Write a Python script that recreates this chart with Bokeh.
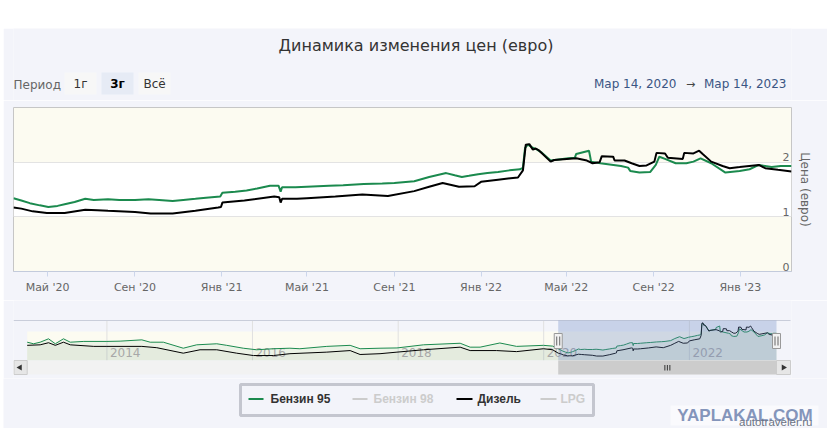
import math
import pandas as pd
from bokeh.plotting import figure
from bokeh.models import Range1d, FixedTicker, ColumnDataSource, BoxAnnotation, Spacer, Label
from bokeh.layouts import column, row
from bokeh.core.properties import value
from bokeh.embed import file_html
from bokeh.resources import INLINE

# ---------------- texts ----------------
TITLE = "Динамика изменения цен (евро)"
PERIOD_LABEL = "Период"
PERIOD_BUTTONS = ["1г", "3г", "Всё"]
SELECTED_BUTTON = "3г"
RANGE_FROM_TEXT = "Мар 14, 2020"
RANGE_TO_TEXT = "Мар 14, 2023"
Y_AXIS_TITLE = "Цена (евро)"
SERIES_NAMES = ["Бензин 95", "Бензин 98", "Дизель", "LPG"]
SERIES_VISIBLE = [True, False, True, False]
WATERMARK = "YAPLAKAL.COM"
SOURCE = "autotraveler.ru"

# ---------------- axes ----------------
SELECTION = ["2020-03-14", "2023-03-14"]
X_TICK_DATES = ["2020-05-01", "2020-09-01", "2021-01-01", "2021-05-01", "2021-09-01",
                "2022-01-01", "2022-05-01", "2022-09-01", "2023-01-01"]
X_TICK_LABELS = ["Май '20", "Сен '20", "Янв '21", "Май '21", "Сен '21",
                 "Янв '22", "Май '22", "Сен '22", "Янв '23"]
Y_TICKS = [0, 1, 2]
Y_RANGE = [0, 3]
WHITE_BAND = [1, 2]
NAV_YEARS = [2014, 2016, 2018, 2020, 2022]

# ---------------- data: Бензин 95 (shown window) ----------------
b95_dates = ["2020-03-14", "2020-03-25", "2020-04-06", "2020-04-20", "2020-05-02", "2020-05-15",
             "2020-05-25", "2020-06-08", "2020-06-23", "2020-07-05", "2020-07-25", "2020-08-10",
             "2020-09-01", "2020-09-20", "2020-10-05", "2020-10-24", "2020-11-08", "2020-11-25",
             "2020-12-10", "2020-12-30", "2021-01-02", "2021-01-20", "2021-02-05", "2021-02-20",
             "2021-03-10", "2021-03-22", "2021-03-25", "2021-03-27", "2021-04-15", "2021-05-01",
             "2021-06-01", "2021-06-21", "2021-07-20", "2021-08-15", "2021-09-01", "2021-09-29",
             "2021-10-20", "2021-11-13", "2021-11-25", "2021-12-05", "2021-12-15", "2021-12-28",
             "2022-01-10", "2022-01-25", "2022-02-10", "2022-02-25", "2022-03-01", "2022-03-04",
             "2022-03-08", "2022-03-14", "2022-03-21", "2022-03-28", "2022-04-09", "2022-04-20",
             "2022-05-04", "2022-05-13", "2022-05-15", "2022-06-02", "2022-06-05", "2022-06-18",
             "2022-07-17", "2022-07-27", "2022-07-30", "2022-08-12", "2022-08-27", "2022-09-04",
             "2022-09-09", "2022-09-17", "2022-10-02", "2022-10-17", "2022-10-27", "2022-11-06",
             "2022-11-21", "2022-12-11", "2022-12-31", "2023-01-14", "2023-01-27", "2023-02-14",
             "2023-02-27", "2023-03-14"]
b95_values = [1.34, 1.30, 1.25, 1.21, 1.18, 1.20,
              1.23, 1.27, 1.33, 1.31, 1.32, 1.31,
              1.31, 1.32, 1.31, 1.29, 1.31, 1.33,
              1.35, 1.37, 1.44, 1.46, 1.48, 1.52,
              1.57, 1.57, 1.46, 1.54, 1.54, 1.55,
              1.57, 1.58, 1.60, 1.61, 1.62, 1.65,
              1.73, 1.80, 1.76, 1.73, 1.75, 1.78,
              1.80, 1.82, 1.85, 1.87, 1.90, 2.26,
              2.32, 2.27, 2.23, 2.17, 2.03, 2.05,
              2.07, 2.08, 2.15, 2.21, 2.01, 1.98,
              1.93, 1.90, 1.84, 1.81, 1.82, 1.95,
              2.10, 2.06, 1.98, 1.98, 2.01, 2.07,
              1.98, 1.81, 1.84, 1.87, 1.95, 1.91,
              1.93, 1.93]

# ---------------- data: Дизель (shown window) ----------------
diesel_dates = ["2020-03-14", "2020-03-25", "2020-04-10", "2020-04-30", "2020-05-25", "2020-06-23",
                "2020-07-10", "2020-07-25", "2020-09-01", "2020-09-23", "2020-10-24", "2020-11-25",
                "2020-12-27", "2020-12-31", "2021-01-02", "2021-02-02", "2021-03-16", "2021-03-23",
                "2021-03-25", "2021-03-27", "2021-04-17", "2021-05-01", "2021-06-10", "2021-07-18",
                "2021-08-23", "2021-09-29", "2021-10-20", "2021-11-08", "2021-12-01", "2021-12-23",
                "2022-01-01", "2022-01-25", "2022-02-22", "2022-03-01", "2022-03-05", "2022-03-10",
                "2022-03-15", "2022-03-19", "2022-03-24", "2022-04-09", "2022-04-14", "2022-05-15",
                "2022-05-30", "2022-06-07", "2022-06-17", "2022-06-20", "2022-07-06", "2022-07-08",
                "2022-07-22", "2022-08-01", "2022-08-12", "2022-08-22", "2022-09-02", "2022-09-05",
                "2022-09-17", "2022-09-21", "2022-10-12", "2022-10-14", "2022-10-27", "2022-11-04",
                "2022-11-09", "2022-11-21", "2022-12-07", "2022-12-17", "2022-12-31", "2023-01-27",
                "2023-02-05", "2023-02-23", "2023-03-14"]
diesel_values = [1.17, 1.15, 1.10, 1.07, 1.07, 1.13,
                 1.12, 1.11, 1.09, 1.06, 1.06, 1.11,
                 1.17, 1.18, 1.26, 1.30, 1.37, 1.36,
                 1.26, 1.33, 1.33, 1.34, 1.37, 1.41,
                 1.38, 1.47, 1.55, 1.62, 1.55, 1.56,
                 1.64, 1.68, 1.72, 1.85, 2.32, 2.33,
                 2.23, 2.25, 2.21, 2.01, 2.04, 2.07,
                 2.03, 1.98, 2.00, 2.11, 2.10, 2.03,
                 2.03, 1.98, 1.93, 1.94, 2.01, 2.17,
                 2.16, 2.08, 2.06, 2.17, 2.16, 2.21,
                 2.15, 2.01, 1.93, 1.89, 1.91, 1.95,
                 1.89, 1.86, 1.83]

# ---------------- data: history (navigator only) ----------------
b95_hist_dates = ["2012-11-27", "2012-12-29", "2013-01-31", "2013-03-14", "2013-04-17", "2013-05-28",
                  "2013-07-01", "2013-09-07", "2014-01-01", "2014-03-08", "2014-06-25", "2014-08-06",
                  "2014-10-11", "2015-01-19", "2015-03-27", "2015-07-06", "2015-08-25", "2015-11-16",
                  "2016-01-22", "2016-04-15", "2016-07-07", "2016-08-26", "2017-01-08", "2017-05-05",
                  "2017-06-24", "2017-10-02", "2017-12-26", "2018-05-08", "2018-11-08", "2018-12-28",
                  "2019-02-16", "2019-05-26", "2019-08-18", "2019-12-31", "2020-02-15"]
b95_hist_values = [1.59, 1.53, 1.59, 1.72, 1.53, 1.72,
                   1.59, 1.62, 1.62, 1.63, 1.68, 1.59,
                   1.59, 1.36, 1.49, 1.53, 1.47, 1.36,
                   1.30, 1.34, 1.36, 1.34, 1.43, 1.47,
                   1.34, 1.36, 1.37, 1.49, 1.55, 1.40,
                   1.40, 1.56, 1.43, 1.47, 1.44]
diesel_hist_dates = ["2012-11-27", "2013-01-31", "2013-03-14", "2013-04-17", "2013-05-28", "2013-07-01",
                     "2013-10-27", "2014-01-01", "2014-06-25", "2014-09-08", "2015-01-19", "2015-04-13",
                     "2015-07-06", "2015-10-14", "2016-01-06", "2016-04-15", "2016-07-07", "2017-01-08",
                     "2017-05-05", "2017-06-24", "2017-10-02", "2017-12-26", "2018-05-08", "2018-11-08",
                     "2018-12-28", "2019-05-10", "2019-08-18", "2019-12-31", "2020-02-15"]
diesel_hist_values = [1.47, 1.49, 1.57, 1.47, 1.59, 1.49,
                      1.43, 1.43, 1.43, 1.38, 1.17, 1.30,
                      1.30, 1.17, 1.08, 1.08, 1.15, 1.21,
                      1.27, 1.12, 1.15, 1.21, 1.30, 1.40,
                      1.27, 1.27, 1.23, 1.34, 1.30]

# ---------------- styles / layout ----------------
W = 824            # container width (page x 3 .. 827)
CX0, CX1 = 3, 827  # container edges in page pixels
BL, BR = 10, 36    # borders shared by the aligned figures
FL, FR = 13, 791   # frame edges in page pixels
BG = "#f3f4fa"
YELLOW = "#fcfbf1"
GREEN = "#1b8a4e"
BLACK = "#000000"
HIDDEN = "#cccccc"
SERIES_COLORS = [GREEN, HIDDEN, BLACK, HIDDEN]
FONT_NAME = "DejaVu Sans"
FONT = value(FONT_NAME)
LEG_FONT_NAME = "Liberation Sans"
LEG_FONT = value(LEG_FONT_NAME)


def ms(s):
    return pd.Timestamp(s).value / 1e6


def pixel_fig(top, bot, full=False):
    """Decoration figure whose data coordinates are page pixels."""
    bl, br = (0, 0) if full else (BL, BR)
    x0, x1 = (CX0, CX1) if full else (FL, FR)
    p = figure(width=W, height=bot - top, x_range=Range1d(x0, x1), y_range=Range1d(bot, top),
               output_backend="svg", toolbar_location=None,
               min_border_left=bl, min_border_right=br, min_border_top=0, min_border_bottom=0,
               x_axis_location=None, y_axis_location=None, outline_line_color=None,
               background_fill_color=BG, border_fill_color=BG)
    p.grid.visible = False
    return p


# ================= header =================
header = pixel_fig(28, 100)
header.text(x=[415.5], y=[45], text=[TITLE], text_font=FONT, text_font_size="16px",
            text_color="#333333", text_align="center", text_baseline="middle")
header.text(x=[13], y=[84], text=[PERIOD_LABEL], text_font=FONT, text_font_size="12px",
            text_color="#666666", text_align="left", text_baseline="middle")
btn_left = [64, 101, 138]
btn_w = 32
header.quad(left=btn_left, right=[l + btn_w for l in btn_left], top=[72] * 3, bottom=[94] * 3,
            fill_color=["#e6ebf5" if b == SELECTED_BUTTON else "#f7f7f7" for b in PERIOD_BUTTONS],
            line_color=None)
for l, b in zip(btn_left, PERIOD_BUTTONS):
    header.text(x=[l + btn_w / 2], y=[83.5], text=[b], text_font=FONT, text_font_size="12px",
                text_color="#000000" if b == SELECTED_BUTTON else "#333333",
                text_font_style="bold" if b == SELECTED_BUTTON else "normal",
                text_align="center", text_baseline="middle")
header.text(x=[676], y=[83.5], text=[RANGE_FROM_TEXT], text_font=FONT, text_font_size="12px",
            text_color="#3a5583", text_align="right", text_baseline="middle")
header.text(x=[690], y=[83.5], text=["→"], text_font=FONT, text_font_size="11px",
            text_color="#444444", text_align="center", text_baseline="middle")
header.text(x=[786], y=[83.5], text=[RANGE_TO_TEXT], text_font=FONT, text_font_size="12px",
            text_color="#3a5583", text_align="right", text_baseline="middle")

# ================= main chart =================
sel0 = pd.Timestamp(SELECTION[0]).to_pydatetime()
sel1 = pd.Timestamp(SELECTION[1]).to_pydatetime()
main = figure(width=W, height=200, x_axis_type="datetime", x_range=Range1d(sel0, sel1),
              y_range=Range1d(*Y_RANGE), output_backend="svg", toolbar_location=None,
              y_axis_location="right", min_border_left=BL, min_border_right=BR,
              min_border_top=7, min_border_bottom=29,
              background_fill_color=YELLOW, border_fill_color=BG,
              outline_line_color="#c6c6c6")
main.add_layout(BoxAnnotation(bottom=WHITE_BAND[0], top=WHITE_BAND[1], fill_color="white",
                              fill_alpha=1, line_alpha=0, level="image"))
main.xgrid.visible = False
main.ygrid.ticker = FixedTicker(ticks=[1, 2])
main.ygrid.grid_line_color = "#e3e3e3"

tick_ms = [ms(d) for d in X_TICK_DATES]
xa = main.xaxis[0]
xa.ticker = FixedTicker(ticks=tick_ms)
xa.major_label_overrides = {t: lab for t, lab in zip(tick_ms, X_TICK_LABELS)}
xa.axis_line_color = "#c3cbdc"
xa.major_tick_line_color = "#ccd6eb"
xa.major_tick_in = 0
xa.major_tick_out = 5
xa.minor_tick_line_color = None
xa.major_label_standoff = 4
xa.major_label_text_font = FONT_NAME
xa.major_label_text_font_size = "11px"
xa.major_label_text_color = "#666666"

ya = main.yaxis[0]
ya.ticker = FixedTicker(ticks=[])
ya.axis_line_color = None
ya.major_tick_out = 0
ya.major_tick_in = 0
ya.minor_tick_line_color = None
ya.axis_label = Y_AXIS_TITLE
ya.axis_label_text_font = FONT_NAME
ya.axis_label_text_font_style = "normal"
ya.axis_label_text_font_size = "12px"
ya.axis_label_text_color = "#666666"
ya.axis_label_standoff = 6

src_g = ColumnDataSource(dict(x=pd.to_datetime(b95_dates), y=b95_values))
src_d = ColumnDataSource(dict(x=pd.to_datetime(diesel_dates), y=diesel_values))
main.line("x", "y", source=src_g, line_color=GREEN, line_width=2)
main.line("x", "y", source=src_d, line_color=BLACK, line_width=2)
main.text(x=[sel1] * len(Y_TICKS), y=Y_TICKS, text=[str(v) for v in Y_TICKS],
          text_font=FONT, text_font_size="11px", text_color="#666666",
          text_align="right", text_baseline="bottom", x_offset=-2, y_offset=-1)

# ================= navigator =================
NAV_TOP, NAV_BOT = 300, 378          # figure extent (page px)
DX0, DX1 = 26.7, 776.0               # data extent (page px)
PT, PB = 320.0, 360.0                # navigator plot top / bottom (page px)
NAV_LO, NAV_HI = 0.89, 2.42
g_all_x = [ms(d) for d in b95_hist_dates + b95_dates]
g_all_y = b95_hist_values + b95_values
d_all_x = [ms(d) for d in diesel_hist_dates + diesel_dates]
d_all_y = diesel_hist_values + diesel_values
d0 = min(g_all_x[0], d_all_x[0])
d1 = ms(SELECTION[1])
mpp = (d1 - d0) / (DX1 - DX0)
upp = (NAV_HI - NAV_LO) / (PB - PT)


def nx(px):
    return d0 + (px - DX0) * mpp


def ny(py):
    return NAV_HI - (py - PT) * upp


nav = figure(width=W, height=NAV_BOT - NAV_TOP, x_range=Range1d(nx(FL), nx(FR)),
             y_range=Range1d(ny(NAV_BOT), ny(NAV_TOP)), output_backend="svg",
             toolbar_location=None, min_border_left=BL, min_border_right=BR,
             min_border_top=0, min_border_bottom=0, x_axis_location=None, y_axis_location=None,
             outline_line_color=None, background_fill_color=BG, border_fill_color=BG)
nav.grid.visible = False
bottom = ny(PB)
nav.quad(left=[d0], right=[d1], bottom=[bottom], top=[WHITE_BAND[1]], fill_color=YELLOW,
         line_color=None)
year_ms = [ms(f"{y}-01-01") for y in NAV_YEARS]
nav.segment(x0=year_ms, x1=year_ms, y0=[ny(PT)] * len(year_ms), y1=[bottom] * len(year_ms),
            line_color="#e0e0e0", line_width=1)
nav.segment(x0=[nx(13)], x1=[nx(790)], y0=[ny(PT)], y1=[ny(PT)],
            line_color="#c9cdda", line_width=1)
nav.varea(x=g_all_x, y1=[bottom] * len(g_all_x), y2=g_all_y, fill_color=GREEN, fill_alpha=0.07)
nav.varea(x=d_all_x, y1=[bottom] * len(d_all_x), y2=d_all_y, fill_color=BLACK, fill_alpha=0.03)
nav.text(x=year_ms, y=[ny(352)] * len(year_ms), text=[str(y) for y in NAV_YEARS],
         text_font=FONT, text_font_size="12px", text_color="#a8a8a8",
         text_align="left", text_baseline="middle", x_offset=3)
nav.line(g_all_x, g_all_y, line_color=GREEN, line_width=1)
nav.line(d_all_x, d_all_y, line_color=BLACK, line_width=1)
s0, s1 = ms(SELECTION[0]), ms(SELECTION[1])
nav.quad(left=[s0], right=[s1], bottom=[bottom], top=[ny(PT)], fill_color="#6685c2",
         fill_alpha=0.3, line_color=None)
# scrollbar
nav.quad(left=[nx(12)], right=[nx(790)], bottom=[ny(374)], top=[ny(360)], fill_color="#f2f2f2",
         line_color=None)
nav.quad(left=[s0], right=[s1], bottom=[ny(374)], top=[ny(360)], fill_color="#cccccc",
         line_color=None)
smid = (s0 + s1) / 2
grip = [smid - 2.5 * mpp, smid, smid + 2.5 * mpp]
nav.segment(x0=grip, x1=grip, y0=[ny(364.5)] * 3, y1=[ny(370)] * 3, line_color="#333333",
            line_width=1)
nav.quad(left=[nx(13.5), nx(776)], right=[nx(26.7), nx(790)], bottom=[ny(374)] * 2,
         top=[ny(360)] * 2, fill_color="#e6e6e6", line_color="#cccccc", line_width=1)
nav.scatter(x=[nx(19.5), nx(783)], y=[ny(367)] * 2, marker="triangle",
            angle=[math.pi / 2, -math.pi / 2], size=6, fill_color="#333333", line_color=None)
# handles
nav.rect(x=[s0, s1], y=[ny(340.5)] * 2, width=8, height=15, width_units="screen",
         height_units="screen", fill_color="#f2f2f2", line_color="#999999", line_width=1)
hx = [s0 - 1.5 * mpp, s0 + 1.5 * mpp, s1 - 1.5 * mpp, s1 + 1.5 * mpp]
nav.segment(x0=hx, x1=hx, y0=[ny(336)] * 4, y1=[ny(345)] * 4, line_color="#666666", line_width=1)

# ================= legend + watermark (full-width frame, wrapped to avoid alignment) =========
leg = pixel_fig(378, 428, full=True)
leg.quad(left=[240], right=[593], top=[384], bottom=[415], fill_alpha=0,
         line_color="#c4c6cf", line_width=3)
sym_x0 = [248, 352, 456, 540]
sym_x1 = [263, 367, 472, 556]
txt_x = [270, 373, 477, 560]
for i, name in enumerate(SERIES_NAMES):
    col = SERIES_COLORS[i]
    leg.segment(x0=[sym_x0[i]], x1=[sym_x1[i]], y0=[398.5], y1=[398.5], line_color=col,
                line_width=2)
    leg.text(x=[txt_x[i]], y=[398.5], text=[name], text_font=LEG_FONT, text_font_size="12px",
             text_font_style="bold", text_color="#333333" if SERIES_VISIBLE[i] else HIDDEN,
             text_align="left", text_baseline="middle")
leg.quad(left=[670], right=[818], top=[405], bottom=[425], fill_color="white",
         fill_alpha=0.55, line_color=None)
leg.text(x=[744.5], y=[414.5], text=[WATERMARK], text_font=LEG_FONT, text_font_size="17px",
         text_font_style="bold", text_color="#8495bb", text_align="center",
         text_baseline="middle")
leg.text(x=[812], y=[421.5], text=[SOURCE], text_font=LEG_FONT, text_font_size="11.5px",
         text_color="#6b7383", text_align="right", text_baseline="middle")

layout = row(Spacer(width=3, height=420),
             column(Spacer(width=W, height=28), header, main, nav, row(leg), spacing=0),
             spacing=0)
open("out.html", "w", encoding="utf-8").write(file_html(layout, INLINE, title="chart"))
